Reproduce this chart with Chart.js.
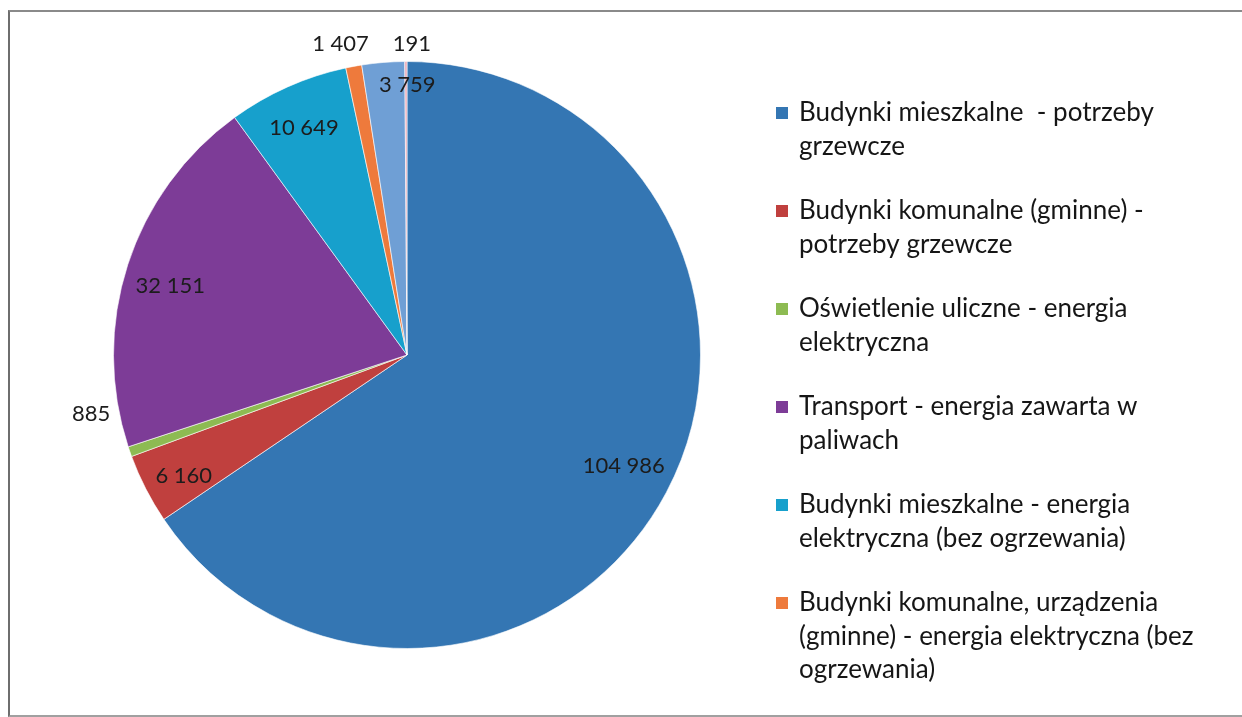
<!DOCTYPE html>
<html lang="pl">
  <head>
    <meta charset="UTF-8" />
    <title>Wykres</title>
    <script src="https://cdn.jsdelivr.net/npm/chart.js@4.4.0/dist/chart.umd.min.js"></script>
    <style>
      body {
        margin: 0;
        background: #ffffff;
      }
      .ramka {
        position: absolute;
        left: 8px;
        top: 10px;
        width: 1234px;
        height: 703px;
        border-top: 2px solid #8a8a8a;
        border-left: 2px solid #6e6e6e;
        border-bottom: 2px solid #a0a0a0;
      }
      .wykres {
        position: absolute;
        left: 0;
        top: 0;
        width: 1242px;
        height: 717px;
      }
    </style>
  </head>

  <body>
    <div class="ramka"></div>
    <div class="wykres">
      <canvas id="pie"></canvas>
    </div>
  </body>
  <script>
    // dane
    var kategorie = [
      "Budynki mieszkalne  - potrzeby\ngrzewcze",
      "Budynki komunalne (gminne) -\npotrzeby grzewcze",
      "Oświetlenie uliczne - energia\nelektryczna",
      "Transport - energia zawarta w\npaliwach",
      "Budynki mieszkalne - energia\nelektryczna (bez ogrzewania)",
      "Budynki komunalne, urządzenia\n(gminne) - energia elektryczna (bez\nogrzewania)",
      "Pozostałe",
      "Inne",
    ];
    var wartosci = [104986, 6160, 885, 32151, 10649, 1407, 3759, 191];
    var kolory = [
      "#3476b3",
      "#c0403e",
      "#8dbb52",
      "#7d3c97",
      "#17a0cc",
      "#ee7a3c",
      "#6f9fd5",
      "#eaa6b4",
    ];
    var ileWLegendzie = 6;

    // polozenie etykiet: wspolczynnik promienia i przesuniecie kata (stopnie)
    var etykietaR = [0.83, 0.865, 1.095, 0.84, 0.85, 1.085, 0.92, 1.06];
    var etykietaKat = [-0.8, -1.3, 8.7, -1.7, -0.4, -1.6, 4.7, 1.1];

    function formatuj(v) {
      return String(v).replace(/\B(?=(\d{3})+(?!\d))/g, " ");
    }

    var czcionka = "Lato, 'Open Sans', sans-serif";

    var etykiety = {
      id: "etykiety",
      afterDatasetsDraw(chart) {
        const ctx = chart.ctx;
        const meta = chart.getDatasetMeta(0);
        ctx.save();
        ctx.font = "22px " + czcionka;
        ctx.fillStyle = "#1c1c1c";
        ctx.textAlign = "center";
        ctx.textBaseline = "middle";
        meta.data.forEach(function (arc, i) {
          const p = arc.getProps(["x", "y", "startAngle", "endAngle", "outerRadius"], true);
          const kat = (p.startAngle + p.endAngle) / 2 + (etykietaKat[i] * Math.PI) / 180;
          const r = p.outerRadius * etykietaR[i];
          ctx.fillText(formatuj(wartosci[i]), p.x + Math.cos(kat) * r, p.y + Math.sin(kat) * r);
        });
        ctx.restore();
      },
    };

    var legenda = {
      id: "legenda",
      afterDraw(chart) {
        const ctx = chart.ctx;
        ctx.save();
        ctx.font = "26px " + czcionka;
        ctx.textAlign = "left";
        ctx.textBaseline = "middle";
        var y = 113;
        for (var i = 0; i < ileWLegendzie; i++) {
          var linie = chart.data.labels[i].split("\n");
          ctx.fillStyle = kolory[i];
          ctx.fillRect(776, y - 6, 12, 12);
          ctx.fillStyle = "#161616";
          for (var k = 0; k < linie.length; k++) {
            ctx.fillText(linie[k], 799, y + k * 33.5);
          }
          y += linie.length * 33.5 + 31;
        }
        ctx.restore();
      },
    };

    new Chart(document.getElementById("pie"), {
      type: "pie",
      data: {
        labels: kategorie,
        datasets: [
          {
            data: wartosci,
            backgroundColor: kolory,
            borderColor: "rgba(255,255,255,0.6)",
            borderWidth: 1,
          },
        ],
      },
      options: {
        responsive: true,
        maintainAspectRatio: false,
        animation: false,
        layout: {
          padding: { left: 112, right: 540, top: 61, bottom: 68 },
        },
        plugins: {
          legend: { display: false },
          tooltip: { enabled: false },
        },
      },
      plugins: [etykiety, legenda],
    });
  </script>
</html>
